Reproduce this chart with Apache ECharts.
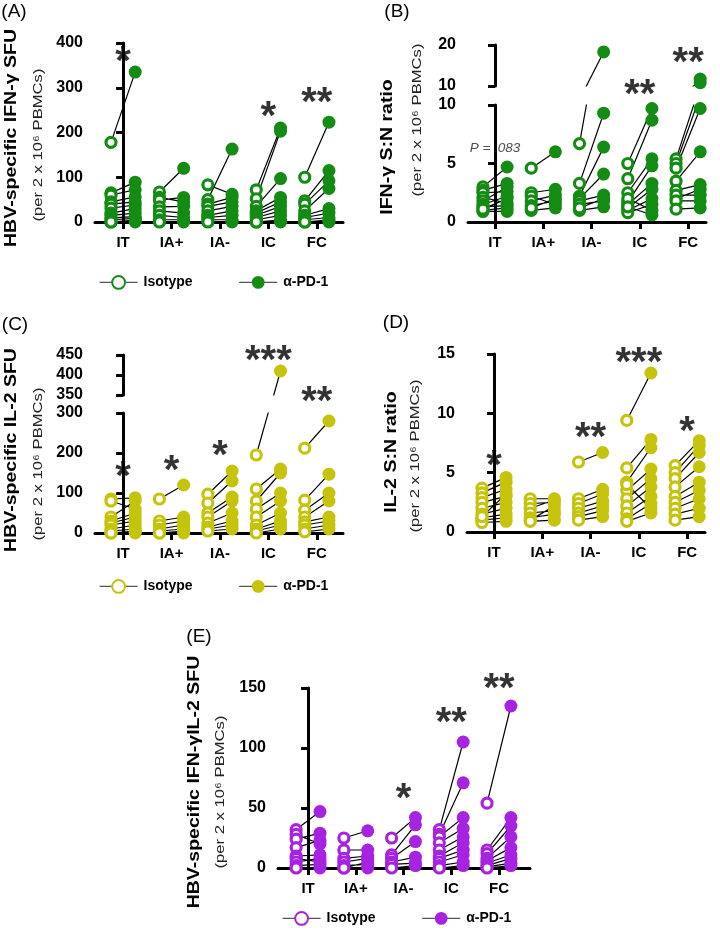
<!DOCTYPE html>
<html><head><meta charset="utf-8">
<script src="https://cdn.jsdelivr.net/npm/echarts@6/dist/echarts.min.js"></script>
<style>html,body{margin:0;padding:0;background:#fff}#c{width:720px;height:934px}</style>
</head><body><div id="c"></div>
<script>
// ---------------- DATA ----------------
const groups = ['IT', 'IA+', 'IA-', 'IC', 'FC'];
const condIso = 'Isotype';
const condPD1 = 'α-PD-1';

// each pair: [isotype, α-PD-1] for one patient; one list per disease phase
const pairsA = [ // HBV-specific IFN-γ SFU
  [[178,335],[65,89],[60,72],[45,56],[40,45],[31,38],[20,30],[15,20],[9,12],[5,8],[0,4],[0,0]],
  [[67,120],[55,45],[49,55],[34,35],[25,20],[15,10],[5,5],[0,0]],
  [[83,62],[50,163],[40,55],[35,45],[25,35],[15,25],[10,15],[5,5],[0,0]],
  [[72,210],[52,203],[35,97],[25,55],[20,45],[15,35],[10,25],[5,15],[0,5],[0,0]],
  [[100,223],[47,115],[40,92],[25,75],[15,30],[10,20],[5,10],[0,5],[0,0]]
];
const pairsB = [ // IFN-γ S:N ratio
  [[3.0,4.7],[2.7,3.3],[2.5,2.6],[2.1,1.6],[1.8,3.0],[1.5,2.2],[1.3,1.4],[1.0,1.2],[0.9,0.9],[1.1,2.0]],
  [[4.6,6.0],[2.5,2.8],[2.2,1.5],[1.8,2.3],[1.4,1.8],[1.0,1.2],[1.2,2.0]],
  [[6.7,18.3],[3.3,9.3],[2.2,6.4],[2.0,4.1],[1.8,2.3],[1.5,1.8],[1.0,1.3],[1.2,2.0]],
  [[5.0,9.7],[3.7,8.7],[2.5,5.4],[1.7,4.8],[1.5,3.3],[1.2,2.8],[1.0,2.0],[0.8,1.5],[2.0,1.0],[1.3,0.6]],
  [[5.4,11.7],[5.0,10.8],[4.6,9.7],[3.5,6.0],[2.7,3.2],[2.0,2.8],[2.3,2.3],[1.8,1.8],[1.1,1.2]]
];
const pairsC = [ // HBV-specific IL-2 SFU
  [[85,88],[80,60],[40,80],[30,50],[25,40],[20,30],[10,20],[5,10],[0,5],[0,0]],
  [[85,120],[30,40],[20,30],[10,20],[5,10],[0,5],[0,0]],
  [[97,155],[75,130],[50,90],[40,80],[25,50],[15,30],[10,20],[5,10]],
  [[195,410],[110,160],[80,150],[60,100],[40,80],[20,50],[10,30],[5,20],[0,10]],
  [[212,280],[82,147],[57,100],[40,80],[28,40],[20,30],[10,20],[3,10]]
];
const pairsD = [ // IL-2 S:N ratio
  [[3.7,4.6],[3.3,4.2],[2.9,3.6],[2.5,3.0],[2.0,2.5],[1.5,2.0],[1.2,1.5],[1.0,1.2],[0.8,0.9],[1.3,3.2]],
  [[2.8,2.8],[2.4,2.5],[2.0,2.7],[1.6,1.8],[1.2,1.5],[1.0,2.2],[0.9,1.0]],
  [[5.9,6.7],[2.8,3.6],[2.4,3.2],[2.0,2.6],[1.6,2.2],[1.3,1.8],[1.0,1.3]],
  [[9.4,13.4],[5.4,7.8],[4.2,7.1],[3.5,5.3],[2.8,4.5],[2.2,3.8],[1.6,3.0],[1.1,2.4],[0.9,1.6],[4.0,2.0]],
  [[5.6,7.7],[5.0,7.3],[4.5,6.7],[3.8,5.5],[3.0,4.2],[2.5,3.5],[2.0,2.8],[1.5,2.0],[1.0,1.3]]
];
const pairsE = [ // HBV-specific IFN-γ IL-2 SFU
  [[32,47],[28,20],[24,29],[17,23],[10,11],[8,5],[5,8],[2,3],[0,0]],
  [[25,31],[15,15],[8,10],[5,8],[2,3],[0,5],[0,0]],
  [[25,42],[11,36],[8,22],[5,9],[3,4],[0,2]],
  [[32,105],[28,71],[26,42],[21,33],[15,26],[10,21],[8,15],[5,11],[2,5],[0,2]],
  [[54,135],[15,42],[12,35],[8,26],[6,17],[4,11],[2,8],[1,4],[0,2]]
];
// significance marks per group
const sigA = ['*', '', '', '*', '**'];
const sigB = ['', '', '', '**', '**'];
const noteB = 'P = .083';
const sigC = ['*', '*', '*', '***', '**'];
const sigD = ['*', '', '**', '***', '*'];
const sigE = ['', '', '*', '**', '**'];

// ---------------- LAYOUT / STYLE ----------------
const FONT = '"Liberation Sans", Arial, sans-serif';
const GREEN = '#148c14', OLIVE = '#c6c30c', PURPLE = '#a822e2';
const OFF = 0.25;
const grids = [], xAxes = [], yAxes = [], series = [];

function addGrid(box, xr, yr, showX) {
  const idx = grids.length;
  grids.push({left: box[0], top: box[1], width: box[2], height: box[3]});
  xAxes.push({
    type: 'value', gridIndex: idx, min: xr[0], max: xr[1], show: showX,
    splitLine: {show: false},
    axisLine: {onZero: false, lineStyle: {color: '#000', width: 3}},
    axisTick: {show: true, customValues: [0,1,2,3,4], length: 7, lineStyle: {color: '#000', width: 3}},
    axisLabel: {customValues: [0,1,2,3,4], formatter: v => groups[Math.round(v)] || '',
      color: '#000', fontFamily: FONT, fontWeight: 'bold', fontSize: 15, margin: 13}
  });
  yAxes.push({
    type: 'value', gridIndex: idx, min: yr[0], max: yr[1], interval: yr[2],
    splitLine: {show: false},
    axisLine: {show: true, lineStyle: {color: '#000', width: 3}},
    axisTick: {show: true, length: 7, lineStyle: {color: '#000', width: 3}},
    axisLabel: {color: '#000', fontFamily: FONT, fontWeight: 'bold', fontSize: 16, margin: 12}
  });
  return idx;
}

function addPoints(gi, pairs, color, tag, test) {
  const lines = [], iso = [], pd = [];
  pairs.forEach((grp, g) => grp.forEach(([a, b]) => {
    if (!test(a, b)) return;
    lines.push([g - OFF, a], [g + OFF, b], [g, '-']);
    if (test.iso(a)) iso.push([g - OFF, a]);
    if (test.pd(b)) pd.push([g + OFF, b]);
  }));
  const base = {type: 'line', xAxisIndex: gi, yAxisIndex: gi, animation: false, clip: true,
    emphasis: {disabled: true}, silent: true};
  series.push(Object.assign({}, base, {name: 'lines|' + tag + gi, data: lines, showSymbol: false,
    symbol: 'none', connectNulls: false, lineStyle: {color: '#000', width: 1.2}, z: 2}));
  series.push(Object.assign({}, base, {name: condIso + '|' + tag, data: iso, symbol: 'circle',
    symbolSize: 10, showAllSymbol: true, lineStyle: {opacity: 0, width: 0},
    itemStyle: {color: '#fff', borderColor: color, borderWidth: 3.2}, z: 3}));
  series.push(Object.assign({}, base, {name: condPD1 + '|' + tag, data: pd, symbol: 'circle',
    symbolSize: 13, showAllSymbol: true, lineStyle: {opacity: 0, width: 0},
    itemStyle: {color: color}, z: 4}));
}

function panel(pairs, color, tag, lowBox, xr, yrLow, upBox, yrUp) {
  const low = addGrid(lowBox, xr, yrLow, true);
  const brk = yrLow[1];
  const tLow = (a, b) => true; tLow.iso = a => a <= brk; tLow.pd = b => b <= brk;
  addPoints(low, pairs, color, tag, tLow);
  if (upBox) {
    const up = addGrid(upBox, xr, yrUp, false);
    const tUp = (a, b) => b > brk; tUp.iso = a => a > brk; tUp.pd = b => b > brk;
    addPoints(up, pairs, color, tag, tUp);
  }
  return low;
}

function addSig(gi, sig, yPos, opts) {
  const data = [];
  sig.forEach((s, g) => { if (s) data.push([g, yPos[g], s]); });
  series.push({type: 'scatter', xAxisIndex: gi, yAxisIndex: gi, data, symbolSize: 1, clip: false,
    animation: false, silent: true, itemStyle: {color: 'transparent'}, z: 20, zlevel: 1,
    label: Object.assign({show: true, position: 'inside', formatter: p => p.value[2],
      color: '#000', fontFamily: FONT, fontWeight: 'bold', fontSize: 40, offset: [0, 10]}, opts || {})});
}

const xrL = [-0.58, 4.54], xrR = [-0.56, 4.37], xrE = [-0.63, 4.65];
const gA = panel(pairsA, GREEN, 'A', [95, 43, 248, 179], xrL, [0, 400, 100]);
const gB = panel(pairsB, GREEN, 'B', [468, 105, 238, 117], xrR, [0, 10, 5], [468, 45, 238, 41], [10, 20, 10]);
const gC = panel(pairsC, OLIVE, 'C', [95, 413, 248, 120], xrL, [0, 300, 100], [95, 355, 248, 40], [350, 450, 50]);
const gD = panel(pairsD, OLIVE, 'D', [467, 354, 238, 178], xrR, [0, 15, 5]);
const gE = panel(pairsE, PURPLE, 'E', [278, 688, 252, 180], xrE, [0, 150, 50]);

addSig(gA, sigA, [377, 0, 0, 255, 286]);
addSig(gB, sigB, [0, 0, 0, 11.6, 14.4]);
addSig(gB, [noteB, '', '', '', ''], [6.3], {fontSize: 13.5, fontWeight: 'normal', fontStyle: 'italic', offset: [0, 0], color: '#222'});
addSig(gC, sigC, [162, 177, 215, 452, 350]);
addSig(gD, sigD, [6.3, 0, 8.7, 15.0, 9.2]);
addSig(gE, sigE, [0, 0, 65, 128, 157]);

const legendBase = {
  orient: 'horizontal', itemWidth: 38, itemHeight: 16, itemGap: 46, selectedMode: false,
  formatter: n => n.split('|')[0],
  textStyle: {fontFamily: FONT, fontWeight: 'bold', fontSize: 14, color: '#000', padding: [0, 0, 0, 1]},
  lineStyle: {color: '#555', width: 1.2, opacity: 1}
};
const legends = [
  Object.assign({}, legendBase, {data: [condIso + '|A', condPD1 + '|A'], left: 94, top: 270}),
  Object.assign({}, legendBase, {data: [condIso + '|C', condPD1 + '|C'], left: 94, top: 574}),
  Object.assign({}, legendBase, {data: [condIso + '|E', condPD1 + '|E'], left: 277, top: 906})
];

function vtext(x, y, text, size, weight, color, stretch) {
  return {type: 'text', x, y, rotation: Math.PI / 2, scaleX: stretch, silent: true,
    style: {text, fontSize: size, fontWeight: weight, fontFamily: FONT, fill: color || '#000',
      align: 'center', verticalAlign: 'middle'}};
}
function htext(x, y, text, size) {
  return {type: 'text', x, y, silent: true,
    style: {text, fontSize: size, fontFamily: FONT, fill: '#000', align: 'center', verticalAlign: 'middle'}};
}
const sub = '(per 2 x 10\u2076 PBMCs)';
const MS = 1.22, SS = 1.28;
const graphics = [
  htext(14, 12, '(A)', 19), htext(397, 12, '(B)', 19), htext(15, 325, '(C)', 19),
  htext(396, 323, '(D)', 19), htext(199, 637, '(E)', 19),
  vtext(12, 138, 'HBV-specific IFN-γ SFU', 16, 'bold', '#000', MS), vtext(38, 145, sub, 13, 'normal', '#222', SS),
  vtext(388, 147, 'IFN-γ S:N ratio', 16, 'bold', '#000', MS), vtext(417, 120, sub, 13, 'normal', '#222', SS),
  vtext(12, 450, 'HBV-specific IL-2 SFU', 16, 'bold', '#000', MS), vtext(38, 464, sub, 13, 'normal', '#222', SS),
  vtext(392, 452, 'IL-2 S:N ratio', 16, 'bold', '#000', MS), vtext(415, 456, sub, 13, 'normal', '#222', SS),
  vtext(195, 782, 'HBV-specific IFN-γIL-2 SFU', 16, 'bold', '#000', MS), vtext(220, 792, sub, 13, 'normal', '#222', SS)
];

const chart = echarts.init(document.getElementById('c'));
chart.setOption({
  animation: false,
  backgroundColor: '#fff',
  grid: grids, xAxis: xAxes, yAxis: yAxes, series,
  legend: legends,
  graphic: graphics
});
</script></body></html>
